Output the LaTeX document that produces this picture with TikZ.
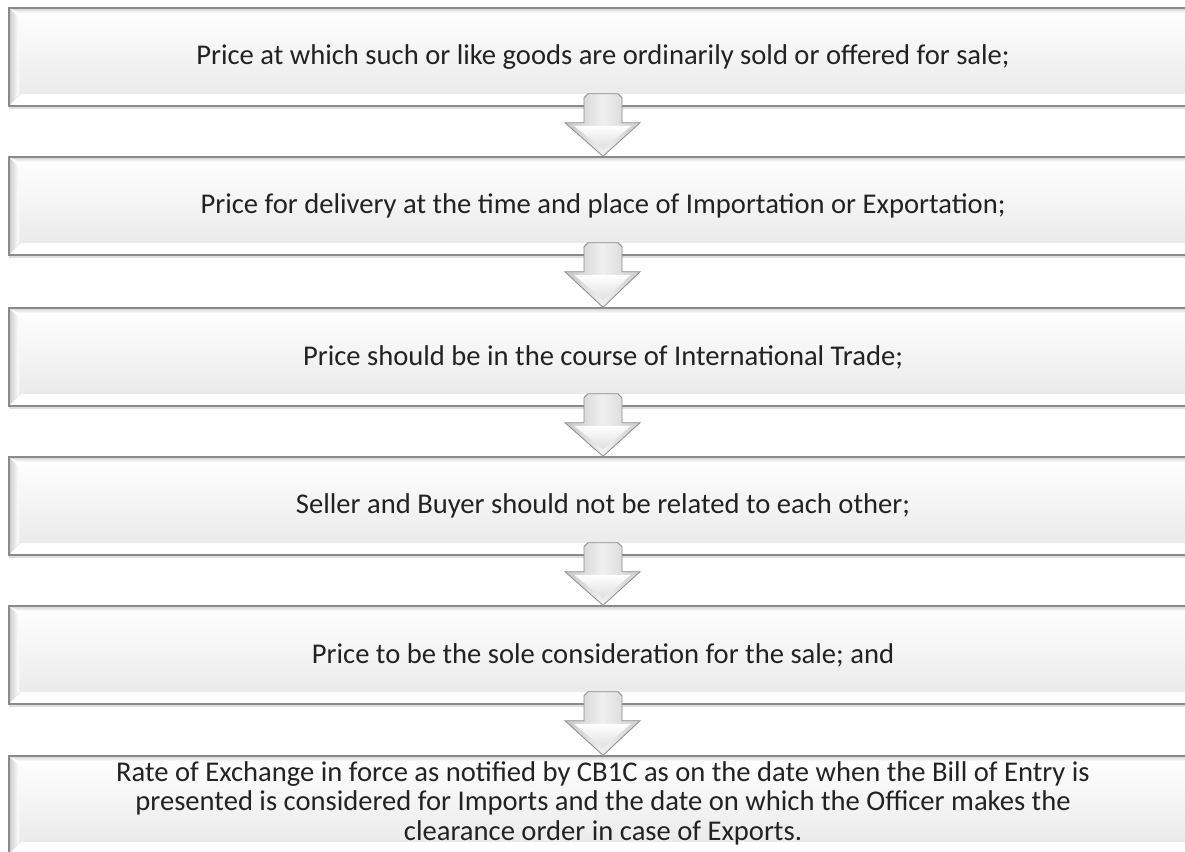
\documentclass[tikz,border=0pt]{standalone}
\usepackage{fontspec}
\setmainfont{Carlito}
\usetikzlibrary{shadows}
\definecolor{txt}{HTML}{222222}
\definecolor{edge}{HTML}{8A8A8A}
\definecolor{arrowedge}{HTML}{8C8C8C}
\tikzset{
  bevelbox/.style={draw=edge, line width=1.5pt, minimum width=1188pt, minimum height=98pt,
    inner sep=0pt, top color=white, bottom color=gray!18, text=txt,
    font=\fontsize{28.6}{29.5}\selectfont, align=center,
    drop shadow={shadow xshift=0pt, shadow yshift=-3pt, opacity=0.25, fill=gray},
    path picture={
      \fill[white] (path picture bounding box.south west) -- (path picture bounding box.south east)
        -- ([yshift=12pt]path picture bounding box.south east)
        -- ([xshift=12pt,yshift=12pt]path picture bounding box.south west) -- cycle;
      \shade[left color=gray!40, right color=white] (path picture bounding box.south west)
        -- ([xshift=10pt,yshift=12pt]path picture bounding box.south west)
        -- ([xshift=10pt,yshift=-10pt]path picture bounding box.north west)
        -- (path picture bounding box.north west) -- cycle;
      \shade[top color=gray!35, bottom color=white] (path picture bounding box.north west)
        -- (path picture bounding box.north east)
        -- ([yshift=-5pt]path picture bounding box.north east)
        -- ([xshift=10pt,yshift=-5pt]path picture bounding box.north west) -- cycle;
    }},
  downarrow/.style={draw=arrowedge, line width=0.8pt, line join=miter,
    left color=gray!45, right color=gray!40, middle color=gray!12},
  headlight/.style={top color=white, bottom color=gray!25, draw=none},
}
\begin{document}
\begin{tikzpicture}[x=1pt, y=-1pt]
\useasboundingbox (0,0) rectangle (1185,851);
\clip (0,0) rectangle (1185,851);
\fill[white] (0,0) rectangle (1185,851);
\node[bevelbox] (b1) at (603,57) {Price at which such or like goods are ordinarily sold or offered for sale;};
\node[bevelbox] (b2) at (603,206) {Price for delivery at the time and place of Importation or Exportation;};
\node[bevelbox] (b3) at (603,357) {Price should be in the course of International Trade;};
\node[bevelbox] (b4) at (603,506) {Seller and Buyer should not be related to each other;};
\node[bevelbox] (b5) at (603,655) {Price to be the sole consideration for the sale; and};
\node[bevelbox] (b6) at (603,805) {\raisebox{-1pt}{\begin{tabular}{@{}c@{}}Rate of Exchange in force as notified by CB1C as on the date when the Bill of Entry is\\ presented is considered for Imports and the date on which the Officer makes the\\ clearance order in case of Exports.\end{tabular}}};
\foreach \a/\b in {b1/b2, b2/b3, b3/b4, b4/b5, b5/b6}{
  \begin{scope}[shift={(\a.south)}]
    \path[downarrow] (-19,-9) -- (-15,-13) -- (15,-13) -- (19,-9) -- (19,16) -- (37,16)
      -- (\b.north) -- (-38,16) -- (-19,16) -- cycle;
    \path[headlight] (-29,19) -- (28,19) -- ([yshift=7pt]\b.north) -- cycle;
  \end{scope}
}
\end{tikzpicture}
\end{document}
